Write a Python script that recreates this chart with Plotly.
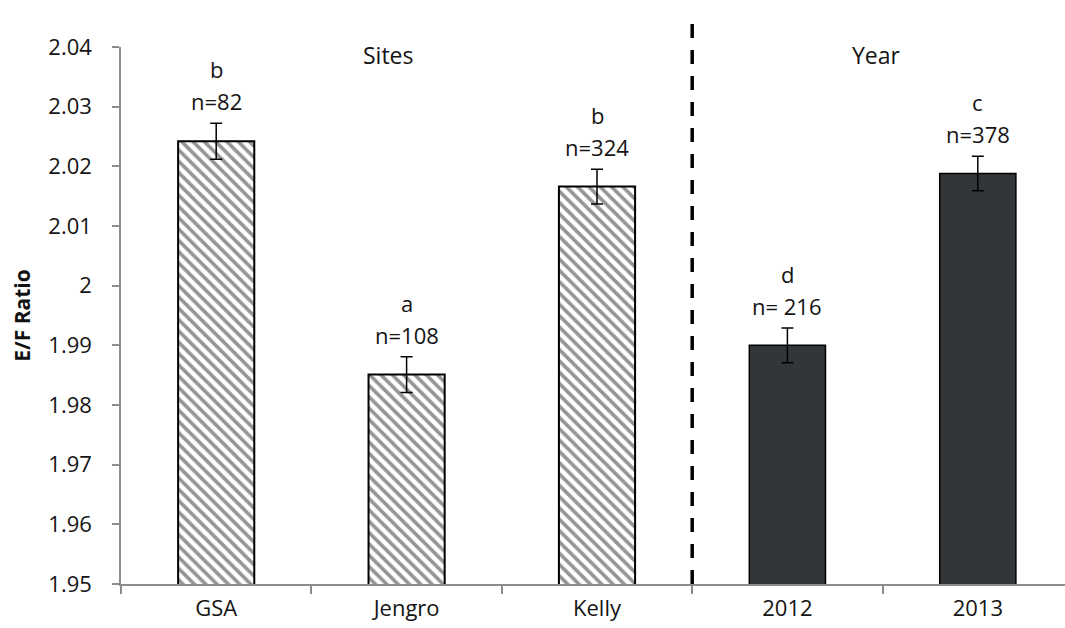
import plotly.graph_objects as go

# E/F ratio by site and by sampling year
site_names = ["GSA", "Jengro", "Kelly"]
site_ratio = [2.0242, 1.9851, 2.0166]
site_err = [0.0030, 0.0030, 0.0029]
site_letters = ["b", "a", "b"]
site_n = ["n=82", "n=108", "n=324"]

year_names = ["2012", "2013"]
year_ratio = [1.9900, 2.0188]
year_err = [0.0029, 0.0029]
year_letters = ["d", "c"]
year_n = ["n= 216", "n=378"]

y_ticks = [1.95, 1.96, 1.97, 1.98, 1.99, 2.00, 2.01, 2.02, 2.03, 2.04]
y_tick_text = ["1.95", "1.96", "1.97", "1.98", "1.99", "2", "2.01", "2.02", "2.03", "2.04"]

categories = site_names + year_names
FONT = "Open Sans"
AXIS_GREY = "#8c8c8c"
TEXT = "#141414"

fig = go.Figure()

fig.add_trace(go.Bar(
    x=site_names, y=site_ratio, width=0.4,
    marker=dict(
        color="white",
        line=dict(color="black", width=2),
        pattern=dict(shape="\\", fgcolor="#2b2b2b", size=8, solidity=0.45),
    ),
    error_y=dict(type="data", array=site_err, visible=True,
                 color="black", thickness=1.5, width=6),
    showlegend=False,
))

fig.add_trace(go.Bar(
    x=year_names, y=year_ratio, width=0.4,
    marker=dict(color="#333638", line=dict(color="black", width=1.5)),
    error_y=dict(type="data", array=year_err, visible=True,
                 color="black", thickness=1.5, width=6),
    showlegend=False,
))

# significance letters and sample sizes above each error bar
# (annotations placed by category index so "2012"/"2013" stay categorical)
for names, vals, errs, lets, ns in [
    (site_names, site_ratio, site_err, site_letters, site_n),
    (year_names, year_ratio, year_err, year_letters, year_n),
]:
    for name, v, e, let, n in zip(names, vals, errs, lets, ns):
        xi = categories.index(name)
        top = v + e
        fig.add_annotation(x=xi, y=top, text=n, showarrow=False,
                           yanchor="bottom", yshift=5,
                           font=dict(family=FONT, size=22, color=TEXT))
        fig.add_annotation(x=xi, y=top, text=let, showarrow=False,
                           yanchor="bottom", yshift=37,
                           font=dict(family=FONT, size=22, color=TEXT))

# group headers
fig.add_annotation(x=1, xshift=-18, y=1, yref="paper", yshift=-8,
                   text="Sites", showarrow=False, yanchor="middle",
                   font=dict(family=FONT, size=23, color=TEXT))
fig.add_annotation(x=3.5, y=1, yref="paper", yshift=-8, xshift=-6,
                   text="Year", showarrow=False, yanchor="middle",
                   font=dict(family=FONT, size=23, color=TEXT))

# dashed divider between the site and year groups
split = len(site_names) - 0.5
fig.add_shape(type="line", xref="x", yref="paper",
              x0=split, x1=split, y0=0, y1=1.053,
              line=dict(color="black", width=3.5, dash="14px,12px"))

fig.update_layout(
    width=1065, height=628,
    margin=dict(l=121, r=0, t=47, b=44, autoexpand=False),
    paper_bgcolor="white", plot_bgcolor="white",
    barmode="overlay",
    font=dict(family=FONT, color=TEXT),
    xaxis=dict(
        type="category", categoryorder="array", categoryarray=categories,
        range=[-0.5, 4.458], tickson="boundaries",
        ticks="outside", ticklen=8, tickcolor=AXIS_GREY, tickwidth=1.5,
        showline=True, linecolor=AXIS_GREY, linewidth=1.5,
        showgrid=False, tickfont=dict(family=FONT, size=22, color=TEXT),
        ticklabelstandoff=4, automargin=False,
    ),
    yaxis=dict(
        range=[1.95, 2.04], tickvals=y_ticks, ticktext=y_tick_text,
        ticks="outside", ticklen=7, tickcolor=AXIS_GREY, tickwidth=1.5,
        showline=True, linecolor=AXIS_GREY, linewidth=1.5,
        showgrid=False, zeroline=False, automargin=False,
        tickfont=dict(family=FONT, size=22, color=TEXT),
        ticklabelstandoff=16,
        title=dict(text="<b>E/F Ratio</b>", standoff=12,
                   font=dict(family=FONT, size=21, color="#111111")),
    ),
)

fig.write_html("out.html")
